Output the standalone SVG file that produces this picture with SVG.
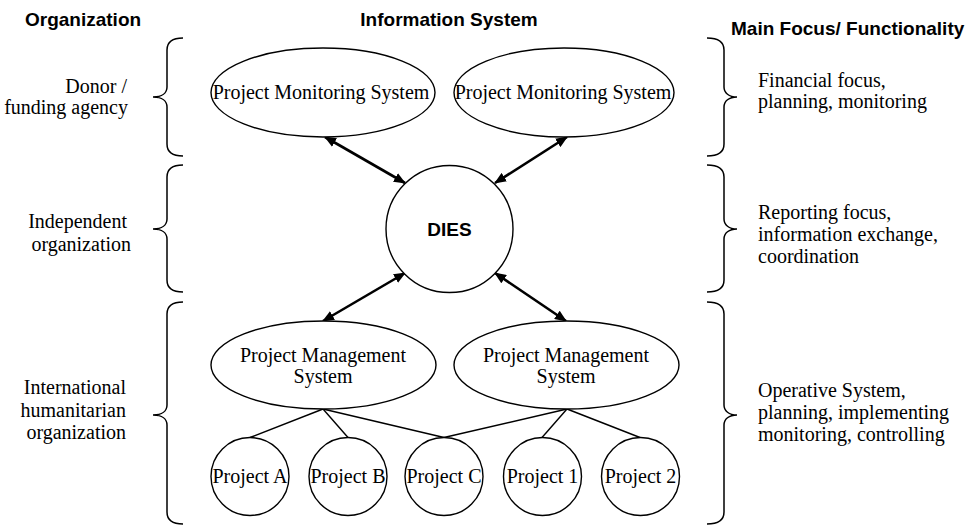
<svg xmlns="http://www.w3.org/2000/svg" width="974" height="526" viewBox="0 0 974 526">
<style>
.hd{font-family:"Liberation Sans",Arial,sans-serif;font-weight:bold;font-size:19px;fill:#000}
.tx{font-family:"Liberation Serif","Times New Roman",serif;font-size:20px;fill:#000}
.shape{fill:#fff;stroke:#000;stroke-width:1.4}
.brace{fill:none;stroke:#000;stroke-width:1.5}
.arrow{stroke:#000;stroke-width:2.6;fill:none}
.thin{stroke:#000;stroke-width:1.4;fill:none}
</style>
<defs>
<marker id="ah" viewBox="0 0 12 10" refX="11" refY="5" markerWidth="12" markerHeight="10" markerUnits="userSpaceOnUse" orient="auto-start-reverse">
<path d="M0,0 L12,5 L0,10 z" fill="#000"/>
</marker>
</defs>
<rect width="974" height="526" fill="#fff"/>

<g id="headers">
<text class="hd" x="25" y="26">Organization</text>
<text class="hd" x="449" y="26" text-anchor="middle">Information System</text>
<text class="hd" x="731" y="35">Main Focus/ Functionality</text>
</g>

<g id="braces">
<path class="brace" d="M183,38 C172,38 167,42 167,50 L167,87 C167,93 162,97 153,97 C162,97 167,101 167,107 L167,144 C167,152 172,156 183,156"/>
<path class="brace" d="M183,165 C172,165 167,169 167,177 L167,219 C167,225 162,229 153,229 C162,229 167,233 167,239 L167,280 C167,288 172,292 183,292"/>
<path class="brace" d="M183,302 C172,302 167,306 167,314 L167,405 C167,411 162,415 153,415 C162,415 167,419 167,425 L167,512 C167,520 172,524 183,524"/>
<path class="brace" d="M707,38 C718,38 724,42 724,50 L724,87 C724,93 729,97 737,97 C729,97 724,101 724,107 L724,144 C724,152 718,156 707,156"/>
<path class="brace" d="M707,165 C718,165 724,169 724,177 L724,219 C724,225 729,229 737,229 C729,229 724,233 724,239 L724,280 C724,288 718,292 707,292"/>
<path class="brace" d="M707,302 C718,302 724,306 724,314 L724,405 C724,411 729,415 737,415 C729,415 724,419 724,425 L724,512 C724,520 718,524 707,524"/>
</g>

<g id="org-labels">
<text class="tx" x="127" y="93" text-anchor="end">Donor /</text>
<text class="tx" x="128" y="114" text-anchor="end">funding agency</text>
<text class="tx" x="127" y="228" text-anchor="end">Independent</text>
<text class="tx" x="131" y="251" text-anchor="end">organization</text>
<text class="tx" x="126" y="394" text-anchor="end">International</text>
<text class="tx" x="126" y="417" text-anchor="end">humanitarian</text>
<text class="tx" x="126" y="439" text-anchor="end">organization</text>
</g>

<g id="focus-labels">
<text class="tx" x="758" y="87">Financial focus,</text>
<text class="tx" x="758" y="108">planning, monitoring</text>
<text class="tx" x="758" y="219">Reporting focus,</text>
<text class="tx" x="758" y="241">information exchange,</text>
<text class="tx" x="758" y="263">coordination</text>
<text class="tx" x="758" y="397">Operative System,</text>
<text class="tx" x="758" y="419">planning, implementing</text>
<text class="tx" x="758" y="441">monitoring, controlling</text>
</g>

<g id="connectors">
<line class="arrow" x1="325" y1="137" x2="405" y2="183" marker-start="url(#ah)" marker-end="url(#ah)"/>
<line class="arrow" x1="567" y1="137" x2="495" y2="183" marker-start="url(#ah)" marker-end="url(#ah)"/>
<line class="arrow" x1="405" y1="273" x2="323" y2="321" marker-start="url(#ah)" marker-end="url(#ah)"/>
<line class="arrow" x1="495" y1="273" x2="566" y2="321" marker-start="url(#ah)" marker-end="url(#ah)"/>
<line class="thin" x1="323" y1="409" x2="250" y2="437.5"/>
<line class="thin" x1="323" y1="409" x2="348" y2="437.5"/>
<line class="thin" x1="323" y1="409" x2="444" y2="437.5"/>
<line class="thin" x1="567" y1="409" x2="444" y2="437.5"/>
<line class="thin" x1="567" y1="409" x2="542" y2="437.5"/>
<line class="thin" x1="567" y1="409" x2="640" y2="437.5"/>
</g>

<g id="pms1">
<ellipse class="shape" cx="323" cy="92.5" rx="112" ry="44.5"/>
<text class="tx" x="321" y="99" text-anchor="middle">Project Monitoring System</text>
</g>
<g id="pms2">
<ellipse class="shape" cx="564" cy="92.5" rx="110" ry="44.5"/>
<text class="tx" x="563" y="99" text-anchor="middle">Project Monitoring System</text>
</g>

<g id="dies">
<circle class="shape" cx="449.5" cy="229" r="63.5"/>
<text class="hd" x="449.5" y="236" text-anchor="middle">DIES</text>
</g>

<g id="pmgs1">
<ellipse class="shape" cx="323.5" cy="365" rx="112.5" ry="44"/>
<text class="tx" x="323" y="362" text-anchor="middle">Project Management</text>
<text class="tx" x="323" y="383" text-anchor="middle">System</text>
</g>
<g id="pmgs2">
<ellipse class="shape" cx="566.5" cy="365" rx="112.5" ry="44"/>
<text class="tx" x="566" y="362" text-anchor="middle">Project Management</text>
<text class="tx" x="566" y="383" text-anchor="middle">System</text>
</g>

<g id="project-a">
<circle class="shape" cx="250" cy="476.5" r="39"/>
<text class="tx" x="250" y="483" text-anchor="middle">Project A</text>
</g>
<g id="project-b">
<circle class="shape" cx="348" cy="476.5" r="39"/>
<text class="tx" x="348" y="483" text-anchor="middle">Project B</text>
</g>
<g id="project-c">
<circle class="shape" cx="444" cy="476.5" r="39"/>
<text class="tx" x="444" y="483" text-anchor="middle">Project C</text>
</g>
<g id="project-1">
<circle class="shape" cx="542.5" cy="476.5" r="39"/>
<text class="tx" x="542.5" y="483" text-anchor="middle">Project 1</text>
</g>
<g id="project-2">
<circle class="shape" cx="640.5" cy="476.5" r="39"/>
<text class="tx" x="640.5" y="483" text-anchor="middle">Project 2</text>
</g>
</svg>
